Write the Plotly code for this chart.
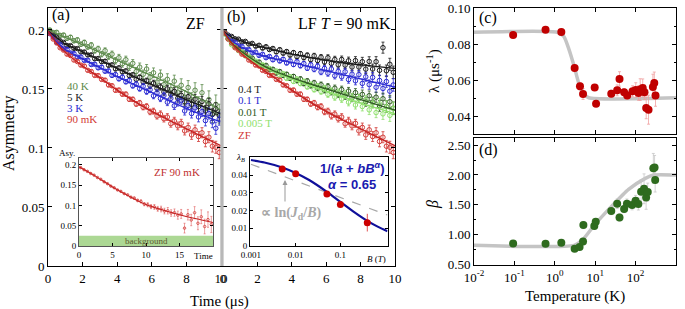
import plotly.graph_objects as go

SERIF = "Liberation Serif, Times New Roman, serif"
SANS = "Liberation Sans, Arial, sans-serif"
W, H = 685, 309


def fx(p):
    return p / W


def fy(p):
    return 1 - p / H


# ---------------- panel (a)/(b): muSR time spectra ----------------
time_us = [0.1, 0.3, 0.5, 0.7, 0.9, 1.1, 1.3, 1.5, 1.7, 1.9,
           2.1, 2.3, 2.5, 2.7, 2.9, 3.1, 3.3, 3.5, 3.7, 3.9,
           4.1, 4.3, 4.5, 4.7, 4.9, 5.1, 5.3, 5.5, 5.7, 5.9,
           6.1, 6.3, 6.5, 6.7, 6.9, 7.1, 7.3, 7.5, 7.7, 7.9,
           8.1, 8.3, 8.5, 8.7, 8.9, 9.1, 9.3, 9.5, 9.7, 9.9]

asym_zf_90mK = [0.1972, 0.1923, 0.1890, 0.1849, 0.1829, 0.1795, 0.1783, 0.1745, 0.1732, 0.1702,
                0.1694, 0.1658, 0.1648, 0.1615, 0.1613, 0.1581, 0.1575, 0.1534, 0.1527, 0.1489,
                0.1490, 0.1456, 0.1456, 0.1413, 0.1412, 0.1373, 0.1382, 0.1345, 0.1352, 0.1306,
                0.1312, 0.1271, 0.1287, 0.1248, 0.1262, 0.1206, 0.1229, 0.1187, 0.1209, 0.1145,
                0.1174, 0.1111, 0.1154, 0.1097, 0.1129, 0.1055, 0.1091, 0.1015, 0.1006, 0.0962]

asym_zf_5K = [0.1981, 0.1953, 0.1939, 0.1908, 0.1894, 0.1868, 0.1867, 0.1844, 0.1842, 0.1814,
              0.1813, 0.1788, 0.1789, 0.1756, 0.1758, 0.1731, 0.1735, 0.1701, 0.1704, 0.1670,
              0.1678, 0.1645, 0.1652, 0.1614, 0.1619, 0.1582, 0.1598, 0.1560, 0.1569, 0.1528,
              0.1549, 0.1505, 0.1517, 0.1474, 0.1501, 0.1453, 0.1479, 0.1422, 0.1446, 0.1390,
              0.1434, 0.1370, 0.1414, 0.1350, 0.1394, 0.1314, 0.1373, 0.1283, 0.1332, 0.1274]

asym_zf_3K = [0.1969, 0.1940, 0.1895, 0.1879, 0.1844, 0.1834, 0.1805, 0.1800, 0.1770, 0.1771,
              0.1742, 0.1743, 0.1707, 0.1710, 0.1679, 0.1685, 0.1650, 0.1653, 0.1615, 0.1622,
              0.1586, 0.1600, 0.1561, 0.1571, 0.1527, 0.1541, 0.1503, 0.1523, 0.1478, 0.1493,
              0.1442, 0.1467, 0.1420, 0.1444, 0.1388, 0.1420, 0.1357, 0.1388, 0.1400, 0.1314,
              0.1360, 0.1292, 0.1340, 0.1263, 0.1309, 0.1232, 0.1292, 0.1221, 0.1167, 0.1246]

asym_zf_40K = [0.2000, 0.1978, 0.1980, 0.1954, 0.1957, 0.1929, 0.1938, 0.1908, 0.1916, 0.1879,
               0.1894, 0.1856, 0.1872, 0.1825, 0.1840, 0.1795, 0.1824, 0.1776, 0.1795, 0.1739,
               0.1765, 0.1714, 0.1748, 0.1688, 0.1717, 0.1648, 0.1685, 0.1624, 0.1669, 0.1600,
               0.1637, 0.1558, 0.1617, 0.1537, 0.1582, 0.1496, 0.1566, 0.1473, 0.1531, 0.1430,
               0.1512, 0.1407, 0.1489, 0.1368, 0.1468, 0.1332, 0.1410, 0.1292, 0.1369, 0.1288]

asym_lf_04T = [0.1983, 0.1956, 0.1945, 0.1925, 0.1922, 0.1900, 0.1903, 0.1881, 0.1886, 0.1862,
               0.1870, 0.1846, 0.1858, 0.1834, 0.1843, 0.1814, 0.1833, 0.1803, 0.1817, 0.1787,
               0.1808, 0.1774, 0.1799, 0.1766, 0.1786, 0.1748, 0.1781, 0.1741, 0.1769, 0.1729,
               0.1765, 0.1717, 0.1750, 0.1705, 0.1750, 0.1702, 0.1739, 0.1686, 0.1740, 0.1686,
               0.1731, 0.1668, 0.1733, 0.1669, 0.1731, 0.1658, 0.1850, 0.1654, 0.1709, 0.1641]

asym_lf_01T = [0.1972, 0.1946, 0.1905, 0.1896, 0.1866, 0.1861, 0.1833, 0.1834, 0.1806, 0.1812,
               0.1784, 0.1794, 0.1765, 0.1775, 0.1747, 0.1765, 0.1737, 0.1752, 0.1720, 0.1738,
               0.1707, 0.1731, 0.1697, 0.1715, 0.1676, 0.1704, 0.1667, 0.1693, 0.1644, 0.1674,
               0.1633, 0.1669, 0.1612, 0.1649, 0.1603, 0.1646, 0.1580, 0.1625, 0.1569, 0.1622,
               0.1547, 0.1603, 0.1537, 0.1598, 0.1514, 0.1572, 0.1504, 0.1563, 0.1481, 0.1534]

asym_lf_001T = [0.1973, 0.1925, 0.1894, 0.1858, 0.1845, 0.1811, 0.1803, 0.1768, 0.1761, 0.1726,
                0.1728, 0.1695, 0.1700, 0.1663, 0.1667, 0.1634, 0.1648, 0.1614, 0.1625, 0.1589,
                0.1606, 0.1570, 0.1585, 0.1546, 0.1568, 0.1528, 0.1552, 0.1507, 0.1536, 0.1490,
                0.1521, 0.1475, 0.1506, 0.1455, 0.1495, 0.1441, 0.1482, 0.1425, 0.1469, 0.1420,
                0.1454, 0.1391, 0.1443, 0.1389, 0.1430, 0.1356, 0.1417, 0.1351, 0.1392, 0.1337]

asym_lf_0005T = [0.1965, 0.1928, 0.1875, 0.1862, 0.1825, 0.1815, 0.1780, 0.1777, 0.1741, 0.1736,
                 0.1699, 0.1705, 0.1668, 0.1674, 0.1642, 0.1652, 0.1616, 0.1629, 0.1590, 0.1603,
                 0.1564, 0.1584, 0.1546, 0.1564, 0.1518, 0.1539, 0.1495, 0.1524, 0.1478, 0.1507,
                 0.1454, 0.1483, 0.1431, 0.1471, 0.1415, 0.1455, 0.1388, 0.1428, 0.1364, 0.1419,
                 0.1351, 0.1405, 0.1323, 0.1379, 0.1300, 0.1373, 0.1289, 0.1349, 0.1276, 0.1335]

err_main = [0.0008, 0.0008, 0.0009, 0.0009, 0.0009, 0.0010, 0.0010, 0.0010, 0.0011, 0.0011,
            0.0012, 0.0012, 0.0012, 0.0013, 0.0013, 0.0014, 0.0014, 0.0015, 0.0015, 0.0016,
            0.0017, 0.0017, 0.0018, 0.0019, 0.0019, 0.0020, 0.0021, 0.0022, 0.0023, 0.0024,
            0.0025, 0.0026, 0.0027, 0.0028, 0.0029, 0.0030, 0.0031, 0.0033, 0.0034, 0.0035,
            0.0037, 0.0038, 0.0040, 0.0042, 0.0043, 0.0045, 0.0047, 0.0049, 0.0051, 0.0053]

err_40K = [0.0012, 0.0013, 0.0013, 0.0014, 0.0014, 0.0015, 0.0016, 0.0016, 0.0017, 0.0018,
           0.0019, 0.0019, 0.0020, 0.0021, 0.0022, 0.0023, 0.0024, 0.0025, 0.0026, 0.0027,
           0.0028, 0.0029, 0.0030, 0.0031, 0.0032, 0.0034, 0.0035, 0.0036, 0.0038, 0.0039,
           0.0041, 0.0042, 0.0044, 0.0046, 0.0047, 0.0049, 0.0051, 0.0053, 0.0055, 0.0057,
           0.0059, 0.0061, 0.0064, 0.0066, 0.0069, 0.0071, 0.0074, 0.0077, 0.0080, 0.0083]

# fit curves
fit_time = [0, 0.5, 1, 2, 3, 4, 5, 6, 7, 8, 9, 10]
fit_zf_90mK = [0.199, 0.1885, 0.1810, 0.1695, 0.1595, 0.1490, 0.1395, 0.1310, 0.1235, 0.1163, 0.1090, 0.1020]
fit_zf_5K = [0.199, 0.1935, 0.188, 0.1815, 0.1745, 0.1675, 0.1603, 0.1537, 0.1474, 0.141, 0.135, 0.1288]
fit_zf_3K = [0.199, 0.190, 0.1835, 0.1755, 0.168, 0.1605, 0.1537, 0.147, 0.140, 0.1335, 0.1275, 0.122]
fit_zf_40K = [0.200, 0.1968, 0.1936, 0.1873, 0.1809, 0.1743, 0.1678, 0.1613, 0.1547, 0.1477, 0.1400, 0.1320]
fit_lf_04T = [0.199, 0.194, 0.191, 0.1865, 0.183, 0.1795, 0.1768, 0.1743, 0.1722, 0.1705, 0.169, 0.1675]
fit_lf_01T = [0.199, 0.191, 0.186, 0.1795, 0.1755, 0.1725, 0.169, 0.1655, 0.162, 0.1585, 0.155, 0.1515]
fit_lf_001T = [0.199, 0.189, 0.1825, 0.1725, 0.165, 0.1595, 0.1545, 0.150, 0.1455, 0.141, 0.1365, 0.132]
fit_lf_0005T = [0.199, 0.188, 0.182, 0.1715, 0.1645, 0.1585, 0.153, 0.148, 0.143, 0.138, 0.1335, 0.129]

legend_a = ["40 K", "5 K", "3 K", "90 mK"]
legend_b = ["0.4 T", "0.1 T", "0.01 T", "0.005 T", "ZF"]

# ---------------- inset of (a): ZF 90 mK, long time ----------------
inset_time = [0.25, 0.75, 1.25, 1.75, 2.25, 2.75, 3.25, 3.75, 4.25, 4.75,
              5.25, 5.75, 6.25, 6.75, 7.25, 7.75, 8.25, 8.75, 9.25, 9.75,
              10.25, 10.75, 11.25, 11.75, 12.25, 12.75, 13.25, 13.75, 14.25, 14.75,
              15.25, 15.75, 16.25, 16.75, 17.25, 17.75, 18.25, 18.75, 19.25, 19.75]
inset_asym = [0.1930, 0.1878, 0.1838, 0.1786, 0.1744, 0.1686, 0.1643, 0.1581, 0.1534, 0.1475,
              0.1434, 0.1380, 0.1345, 0.1290, 0.1260, 0.1203, 0.1178, 0.1122, 0.1098, 0.1030,
              0.1015, 0.0970, 0.0962, 0.0915, 0.0910, 0.0860, 0.0868, 0.0812, 0.0822, 0.0760,
              0.0790, 0.0440, 0.0770, 0.0640, 0.0820, 0.0560, 0.0720, 0.0480, 0.0650, 0.0530]
inset_err = [0.0015, 0.0015, 0.0015, 0.0015, 0.0015, 0.0015, 0.0015, 0.0015, 0.0015, 0.0015,
             0.0015, 0.0015, 0.0015, 0.0015, 0.0015, 0.0015, 0.003, 0.003, 0.004, 0.004,
             0.005, 0.005, 0.006, 0.006, 0.007, 0.007, 0.008, 0.008, 0.009, 0.010,
             0.011, 0.012, 0.013, 0.014, 0.015, 0.016, 0.017, 0.018, 0.019, 0.020]
inset_fit_time = [0, 1, 2.5, 5, 7.5, 10, 12.5, 15, 17.5, 20]
inset_fit_asym = [0.195, 0.186, 0.1715, 0.1455, 0.1225, 0.1020, 0.0885, 0.0770, 0.0670, 0.0580]
background_level = 0.025

# ---------------- inset of (b): lambda vs field ----------------
field_T = [0.005, 0.01, 0.05, 0.1, 0.4]
lambda_B = [0.0435, 0.0408, 0.0294, 0.0234, 0.0132]
lambda_B_err = [0.0008, 0.0008, 0.0008, 0.0008, 0.0050]
fit_field_T = [0.001, 0.002, 0.005, 0.01, 0.02, 0.05, 0.1, 0.2, 0.4, 0.7, 1.13]
fit_lambda_B = [0.0486, 0.0472, 0.0444, 0.0413, 0.0373, 0.0306, 0.0249, 0.0193, 0.0142, 0.0108, 0.0084]
log_field_T = [0.001, 1.13]
log_lambda_B = [0.0462, 0.0175]

# ---------------- panels (c), (d) ----------------
temp_lambda = [0.093, 0.59, 1.45, 3.1, 4.2, 5.0, 9.7, 10.5, 25, 35, 40, 52,
               62, 84, 101, 118, 130, 150, 166, 183, 209, 268, 290, 311]
lambda_vals = [0.0851, 0.0880, 0.0867, 0.0668, 0.0567, 0.0525, 0.0561, 0.0471, 0.0526, 0.0545, 0.0608, 0.0534,
               0.0517, 0.0540, 0.0547, 0.0530, 0.0549, 0.0558, 0.0534, 0.0448, 0.0438, 0.0564, 0.0586, 0.0517]
lambda_err = [0.001, 0.001, 0.001, 0.002, 0.002, 0.003, 0.001, 0.001, 0.002, 0.003, 0.004, 0.002,
              0.002, 0.003, 0.004, 0.004, 0.006, 0.005, 0.004, 0.006, 0.008, 0.007, 0.006, 0.006]
fit_temp_lambda = [0.01, 1.15, 1.67, 2.25, 3.1, 3.9, 5.3, 6.9, 1000]
fit_lambda = [0.0866, 0.0866, 0.0843, 0.0770, 0.0668, 0.0586, 0.0525, 0.0504, 0.0504]

temp_beta = [0.093, 0.59, 1.45, 3.1, 4.1, 5.0, 5.1, 9.5, 10.3, 25, 35, 40,
             52, 61, 82, 100, 117, 137, 162, 182, 200, 275, 295, 305]
beta_vals = [0.852, 0.846, 0.862, 0.762, 0.790, 0.886, 1.160, 1.143, 1.215, 1.394, 1.517, 1.288,
             1.428, 1.517, 1.495, 1.567, 1.512, 1.718, 1.768, 1.624, 1.713, 2.111, 2.127, 1.914]
beta_err = [0.03, 0.03, 0.03, 0.04, 0.04, 0.05, 0.06, 0.05, 0.05, 0.06, 0.08, 0.06,
            0.06, 0.08, 0.08, 0.09, 0.10, 0.20, 0.25, 0.20, 0.15, 0.25, 0.20, 0.20]
fit_temp_beta = [0.01, 3.0, 4.8, 10, 25.7, 67, 174, 277, 1000]
fit_beta = [0.82, 0.82, 0.907, 1.176, 1.478, 1.758, 1.943, 2.0, 2.0]

temp_ticks = [0.01, 0.1, 1, 10, 100, 1000]
temp_tick_text = ["10<sup>-2</sup>", "10<sup>-1</sup>", "10<sup>0</sup>",
                  "10<sup>1</sup>", "10<sup>2</sup>", "10<sup>3</sup>"]

# colours
C_RED = "#d23a36"
C_BLACK = "#1a1a1a"
C_BLUE = "#2a2ad2"
C_GREEN40 = "#5b8a4a"
C_DKGREEN = "#2f5a22"
C_LTGREEN = "#8fe06c"

fig = go.Figure()


def add_series(xa, ya, x, y, err, color, size=4.5):
    fig.add_trace(go.Scatter(
        x=x, y=y, mode="markers", xaxis=xa, yaxis=ya,
        marker=dict(symbol="circle-open", size=size, color=color, line=dict(width=1, color=color)),
        error_y=dict(type="data", array=err, color=color, thickness=0.8, width=1.5),
        showlegend=False, hoverinfo="skip"))


def add_fit(xa, ya, x, y, color, width=1.3, dash="solid", smoothing=0.8):
    fig.add_trace(go.Scatter(
        x=x, y=y, mode="lines", xaxis=xa, yaxis=ya,
        line=dict(color=color, width=width, shape="spline", smoothing=smoothing, dash=dash),
        showlegend=False, hoverinfo="skip"))


# panel (a)
add_series("x", "y", time_us, asym_zf_40K, err_40K, C_GREEN40)
add_series("x", "y", time_us, asym_zf_5K, err_main, C_BLACK)
add_series("x", "y", time_us, asym_zf_3K, err_main, C_BLUE)
add_series("x", "y", time_us, asym_zf_90mK, err_main, C_RED)
add_fit("x", "y", fit_time, fit_zf_40K, C_GREEN40)
add_fit("x", "y", fit_time, fit_zf_5K, C_BLACK)
add_fit("x", "y", fit_time, fit_zf_3K, C_BLUE)
add_fit("x", "y", fit_time, fit_zf_90mK, "#c42020")

# panel (b)
add_series("x2", "y2", time_us, asym_lf_04T, err_main, C_BLACK)
add_series("x2", "y2", time_us, asym_lf_01T, err_main, C_BLUE)
add_series("x2", "y2", time_us, asym_lf_001T, err_main, C_DKGREEN)
add_series("x2", "y2", time_us, asym_lf_0005T, err_main, C_LTGREEN)
add_series("x2", "y2", time_us, asym_zf_90mK, err_main, C_RED)
add_fit("x2", "y2", fit_time, fit_lf_04T, C_BLACK)
add_fit("x2", "y2", fit_time, fit_lf_01T, C_BLUE)
add_fit("x2", "y2", fit_time, fit_lf_0005T, C_LTGREEN)
add_fit("x2", "y2", fit_time, fit_lf_001T, C_DKGREEN)
add_fit("x2", "y2", fit_time, fit_zf_90mK, "#c42020")

# inset (a)
fig.add_trace(go.Scatter(
    x=inset_time, y=inset_asym, mode="markers", xaxis="x3", yaxis="y3",
    marker=dict(symbol="circle-open", size=2.5, color=C_RED, line=dict(width=0.8, color=C_RED)),
    error_y=dict(type="data", array=inset_err, color="#e06060", thickness=0.6, width=1),
    showlegend=False, hoverinfo="skip"))
add_fit("x3", "y3", inset_fit_time, inset_fit_asym, "#c42020", width=1.1)

# inset (b)
add_fit("x4", "y4", log_field_T, log_lambda_B, "#a8a8a8", width=1.2, dash="dash")
add_fit("x4", "y4", fit_field_T, fit_lambda_B, "#10109a", width=2.2)
fig.add_trace(go.Scatter(
    x=field_T, y=lambda_B, mode="markers", xaxis="x4", yaxis="y4",
    marker=dict(symbol="circle", size=7, color="#cc0000"),
    error_y=dict(type="data", array=lambda_B_err, color="#e04040", thickness=0.9, width=0),
    showlegend=False, hoverinfo="skip"))

# panel (c)
add_fit("x5", "y5", fit_temp_lambda, fit_lambda, "#c4c4c4", width=3.5, smoothing=0.6)
fig.add_trace(go.Scatter(
    x=temp_lambda, y=lambda_vals, mode="markers", xaxis="x5", yaxis="y5",
    marker=dict(symbol="circle", size=8, color="#c00000"),
    error_y=dict(type="data", array=lambda_err, color="#f0a0a0", thickness=0.8, width=1.5),
    showlegend=False, hoverinfo="skip"))

# panel (d)
add_fit("x6", "y6", fit_temp_beta, fit_beta, "#c4c4c4", width=3.5, smoothing=0.6)
fig.add_trace(go.Scatter(
    x=temp_beta, y=beta_vals, mode="markers", xaxis="x6", yaxis="y6",
    marker=dict(symbol="circle", size=8, color="#2e6b1e"),
    error_y=dict(type="data", array=beta_err, color="#c8c8c8", thickness=0.8, width=1.5),
    showlegend=False, hoverinfo="skip"))


def axis(domain, anchor, **kw):
    d = dict(domain=domain, anchor=anchor, automargin=False, showline=True, linecolor="black",
             linewidth=1, mirror="ticks", ticks="inside", ticklen=4, tickcolor="black", tickwidth=1,
             showgrid=False, zeroline=False,
             tickfont=dict(family=SERIF, size=13, color="black"))
    d.update(kw)
    return d


small_font = dict(family=SERIF, size=9, color="black")
main_y_dom = [fy(266), fy(8)]

layout_axes = dict(
    xaxis=axis([fx(48), fx(221)], "y", range=[0, 10], tickvals=[0, 2, 4, 6, 8, 10]),
    yaxis=axis(main_y_dom, "x", range=[0, 0.2186], tickvals=[0, 0.05, 0.1, 0.15, 0.2],
               ticktext=["0", "0.05", "0.1", "0.15", "0.2"]),
    xaxis2=axis([fx(223), fx(395)], "y2", range=[0, 10], tickvals=[0, 2, 4, 6, 8, 10]),
    yaxis2=axis(main_y_dom, "x2", range=[0, 0.2186], tickvals=[0, 0.05, 0.1, 0.15, 0.2],
                showticklabels=False),
    xaxis3=axis([fx(79), fx(213)], "y3", range=[0, 20], tickvals=[0, 5, 10, 15], ticklen=3,
                tickfont=small_font, linecolor="#555555"),
    yaxis3=axis([fy(246), fy(158)], "x3", range=[0, 0.2167], tickvals=[0, 0.05, 0.1, 0.15, 0.2],
                ticktext=["0", "0.05", "0.1", "0.15", "0.2"], ticklen=3, tickfont=small_font,
                linecolor="#555555"),
    xaxis4=axis([fx(250), fx(387.5)], "y4", type="log", range=[-3.022, 0.054],
                tickvals=[0.001, 0.01, 0.1], ticktext=["0.001", "0.01", "0.1"], ticklen=3,
                tickfont=small_font),
    yaxis4=axis([fy(246), fy(157)], "x4", range=[0, 0.0503], tickvals=[0, 0.01, 0.02, 0.03, 0.04],
                ticktext=["0", "0.01", "0.02", "0.03", "0.04"], ticklen=3, tickfont=small_font),
    xaxis5=axis([fx(474), fx(676)], "y5", type="log", range=[-2, 3], tickvals=temp_ticks,
                showticklabels=False),
    yaxis5=axis([fy(134.3), fy(8)], "x5", range=[0.0302, 0.1], tickvals=[0.04, 0.06, 0.08, 0.10],
                ticktext=["0.04", "0.06", "0.08", "0.10"],
                minor=dict(ticks="inside", ticklen=2, dtick=0.01, tick0=0, tickcolor="black")),
    xaxis6=axis([fx(474), fx(676)], "y6", type="log", range=[-2, 3], tickvals=temp_ticks,
                ticktext=temp_tick_text),
    yaxis6=axis([fy(265), fy(138)], "x6", range=[0.49, 2.62], tickvals=[0.5, 1, 1.5, 2, 2.5],
                ticktext=["0.50", "1.00", "1.50", "2.00", "2.50"],
                minor=dict(ticks="inside", ticklen=2, dtick=0.25, tick0=0, tickcolor="black")),
)


def txt(x, y, text, size=13, color="black", family=SERIF, xanchor="center", angle=0, **kw):
    d = dict(x=fx(x), y=fy(y), xref="paper", yref="paper", text=text, showarrow=False,
             xanchor=xanchor, yanchor="middle", textangle=angle,
             font=dict(family=family, size=size, color=color))
    d.update(kw)
    return d


annotations = [
    txt(61, 15, "(a)", 16),
    txt(195, 24, "ZF", 16),
    txt(236.5, 17, "(b)", 16),
    txt(393, 23, "LF <i>T</i> = 90 mK", 16, xanchor="right"),
    txt(488, 18, "(c)", 16),
    txt(488, 150, "(d)", 16),
    txt(9, 133, "Asymmetry", 16, angle=-90),
    txt(219, 301, "Time (μs)", 15),
    txt(433, 71, "λ (μs<sup>-1</sup>)", 15, angle=-90),
    txt(433, 205, "<i>β</i>", 16, angle=-90),
    txt(575, 296, "Temperature (K)", 15),
    # inset (a)
    txt(66.5, 152.5, "Asy.", 9),
    txt(203.5, 256, "Time", 9),
    txt(177, 172, "ZF 90 mK", 11, color="#c03030"),
    dict(x=10, y=background_level / 2, xref="x3", yref="y3", text="background", showarrow=False,
         font=dict(family=SERIF, size=9, color="#5c5a2e")),
    # inset (b)
    txt(240, 157, "<i>λ<sub>B</sub></i>", 9),
    txt(376, 259, "<i>B</i> (<i>T</i>)", 9),
    txt(352, 168, "<b>1/(<i>a</i> + <i>bB<sup>α</sup></i>)</b>", 13, color="#1a1ab0", family=SANS),
    txt(352, 184, "<b><i>α</i> = 0.65</b>", 13, color="#1a1ab0", family=SANS),
    txt(291, 213, "<b>∝ ln(<i>J</i><sub>d</sub>/<i>B</i>)</b>", 14, color="#a8a8a8"),
    dict(x=fx(285), y=fy(180), xref="paper", yref="paper", ax=0, ay=23, text="",
         showarrow=True, arrowhead=2, arrowsize=1, arrowwidth=1, arrowcolor="#999999"),
]

legend_a_colors = [C_GREEN40, C_BLACK, C_BLUE, C_RED]
legend_a_y = [86, 97, 108, 119]
for lab, col, yy in zip(legend_a, legend_a_colors, legend_a_y):
    annotations.append(txt(65, yy, lab, 11, color=col, xanchor="left"))

legend_b_colors = [C_BLACK, C_BLUE, C_DKGREEN, C_LTGREEN, C_RED]
legend_b_y = [89, 100, 111.5, 123, 135]
for lab, col, yy in zip(legend_b, legend_b_colors, legend_b_y):
    annotations.append(txt(236, yy, lab, 11, color=col, xanchor="left"))

shapes = [
    dict(type="rect", xref="x3", yref="y3", x0=0, x1=20, y0=0, y1=background_level,
         fillcolor="#acd894", line=dict(width=0), layer="below"),
    dict(type="rect", xref="paper", yref="paper", x0=fx(220.3), x1=fx(223.6), y0=fy(266), y1=fy(8),
         fillcolor="#b8b8b8", line=dict(width=0), layer="above"),
]

fig.update_layout(
    width=W, height=H, margin=dict(l=0, r=0, t=0, b=0, autoexpand=False),
    paper_bgcolor="white", plot_bgcolor="rgba(0,0,0,0)",
    showlegend=False, annotations=annotations, shapes=shapes,
    **layout_axes,
)

fig.write_html(
    "out.html",
    config={"displayModeBar": False},
    post_script="document.body.style.margin='0';document.body.style.padding='0';"
                "document.body.style.overflow='hidden';",
)
